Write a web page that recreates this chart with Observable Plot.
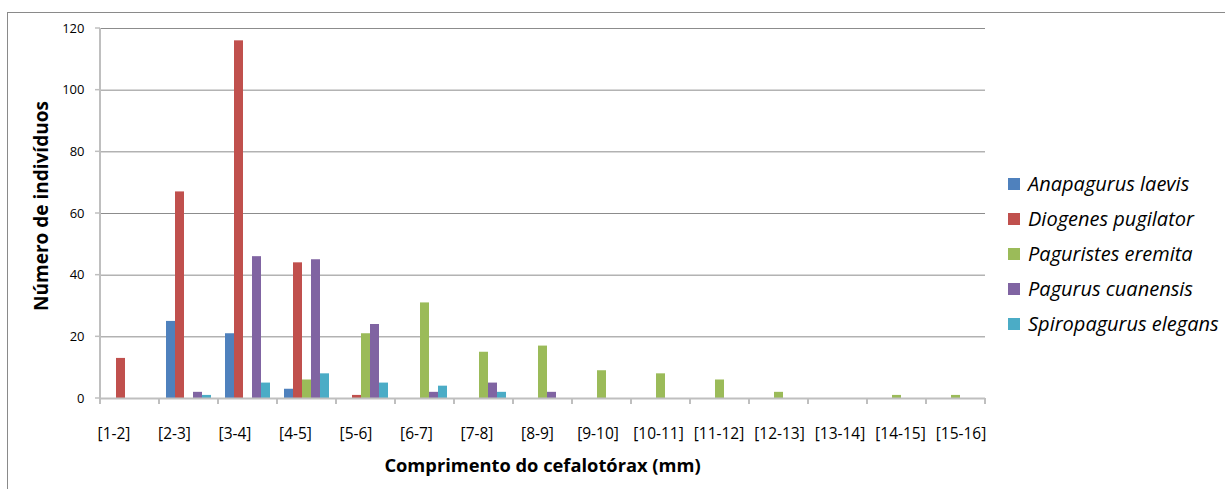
<!DOCTYPE html>
<html>
<head>
<meta charset="utf-8">
<script src="https://cdn.jsdelivr.net/npm/d3@7"></script>
<script src="https://cdn.jsdelivr.net/npm/@observablehq/plot@0.6"></script>
<style>
  html, body { margin: 0; padding: 0; background: #fff; }
  #wrap { position: relative; width: 1225px; height: 489px; overflow: hidden; font-family: "Open Sans", "Noto Sans", sans-serif; }
  #frame { position: absolute; left: 7px; top: 12px; width: 1300px; height: 600px; border-left: 1px solid #8a8a8a; border-top: 1px solid #8a8a8a; }
  #chart { position: absolute; left: 0; top: 0; }
  #legend { position: absolute; left: 1008px; top: 166px; }
  .item { display: flex; align-items: center; height: 35px; font-style: italic; font-size: 20px; color: #000; white-space: nowrap; }
  .sw { width: 12px; height: 12px; margin-right: 8px; }
  svg text { fill: #000; }
</style>
</head>
<body>
<div id="wrap">
  <div id="frame"></div>
  <div id="chart"></div>
  <div id="legend"></div>
</div>
<script>
const categories = ["[1-2]","[2-3]","[3-4]","[4-5]","[5-6]","[6-7]","[7-8]","[8-9]","[9-10]","[10-11]","[11-12]","[12-13]","[13-14]","[14-15]","[15-16]"];
const seriesNames = ["Anapagurus laevis","Diogenes pugilator","Paguristes eremita","Pagurus cuanensis","Spiropagurus elegans"];
const seriesColors = ["#4F81BD","#C0504D","#9BBB59","#8064A2","#4BACC6"];
const anapagurusLaevis    = [0, 25, 21, 3, 0, 0, 0, 0, 0, 0, 0, 0, 0, 0, 0];
const diogenesPugilator   = [13, 67, 116, 44, 1, 0, 0, 0, 0, 0, 0, 0, 0, 0, 0];
const paguristesEremita   = [0, 0, 0, 6, 21, 31, 15, 17, 9, 8, 6, 2, 0, 1, 1];
const pagurusCuanensis    = [0, 2, 46, 45, 24, 2, 5, 2, 0, 0, 0, 0, 0, 0, 0];
const spiropagurusElegans = [0, 1, 5, 8, 5, 4, 2, 0, 0, 0, 0, 0, 0, 0, 0];
const yTicks = [0, 20, 40, 60, 80, 100, 120];

const seriesValues = [anapagurusLaevis, diogenesPugilator, paguristesEremita, pagurusCuanensis, spiropagurusElegans];
const data = [];
categories.forEach((c, i) => {
  seriesNames.forEach((s, j) => {
    data.push({category: c, species: s, value: seriesValues[j][i]});
  });
});

const W = 1000, H = 489;
const plot = Plot.plot({
  width: W,
  height: H,
  marginLeft: 100,
  marginRight: 15,
  marginTop: 28,
  marginBottom: 91,
  style: {fontFamily: "'Open Sans', 'Noto Sans', sans-serif", background: "transparent", color: "#000"},
  fx: {domain: categories, padding: 0, label: null, tickSize: 0, tickPadding: 29},
  x: {domain: seriesNames, axis: null, paddingInner: 0, paddingOuter: 0.75},
  y: {domain: [0, 120], ticks: yTicks, tickSize: 0, tickPadding: 16, label: null, grid: false},
  color: {domain: seriesNames, range: seriesColors},
  marks: [
    Plot.ruleY(yTicks.filter(d => d > 0), {stroke: "#8c8c8c", strokeWidth: 1}),
    Plot.barY(data, {fx: "category", x: "species", y: "value", fill: "species", inset: 0}),
    Plot.ruleY([0], {stroke: "#bfbfbf", strokeWidth: 2})
  ]
});
document.getElementById("chart").appendChild(plot);

// Axis decorations through the plot's own scales
const svg = d3.select(plot);
const fx = plot.scale("fx");
const y = plot.scale("y");
const x0 = 100, x1 = W - 15;
const g = svg.append("g");
// y axis line
g.append("line").attr("x1", x0).attr("x2", x0).attr("y1", y.apply(120)).attr("y2", y.apply(0) + 1)
  .attr("stroke", "#bfbfbf").attr("stroke-width", 2);
// y tick marks
yTicks.forEach(t => {
  g.append("line").attr("x1", x0 - 5).attr("x2", x0).attr("y1", y.apply(t)).attr("y2", y.apply(t))
    .attr("stroke", "#bfbfbf").attr("stroke-width", 1.5);
});
// x tick marks at category boundaries
const boundaries = categories.map(c => fx.apply(c)).concat([fx.apply(categories[categories.length - 1]) + fx.bandwidth]);
boundaries.forEach(bx => {
  g.append("line").attr("x1", bx).attr("x2", bx).attr("y1", y.apply(0)).attr("y2", y.apply(0) + 6)
    .attr("stroke", "#bfbfbf").attr("stroke-width", 2);
});
// axis titles
g.append("text").attr("x", (x0 + x1) / 2).attr("y", 472).attr("text-anchor", "middle")
  .attr("font-size", 18.3).attr("font-weight", "bold").text("Comprimento do cefalotórax (mm)");
g.append("text").attr("transform", `translate(48,${(y.apply(0) + y.apply(120)) / 2 - 7}) rotate(-90)`)
  .attr("text-anchor", "middle").attr("font-size", 19).attr("font-weight", "bold").text("Número de indivíduos");

// style tick labels
svg.selectAll('[aria-label="y-axis tick label"] text, [aria-label="y-axis"] text').attr("font-size", 13);
const fxLabels = svg.selectAll('[aria-label="fx-axis tick label"] text, [aria-label="fx-axis"] text');
fxLabels.attr("font-size", 15.5);
// Excel spreads these labels a little wider than the category step
fxLabels.each(function() {
  const i = categories.indexOf(this.textContent);
  if (i >= 0) d3.select(this).attr("dx", -16 + i * (21 / 14));
});

// legend
const legend = d3.select("#legend");
seriesNames.forEach((s, j) => {
  const it = legend.append("div").attr("class", "item");
  it.append("div").attr("class", "sw").style("background", seriesColors[j]);
  it.append("span").text(s);
});
</script>
</body>
</html>
